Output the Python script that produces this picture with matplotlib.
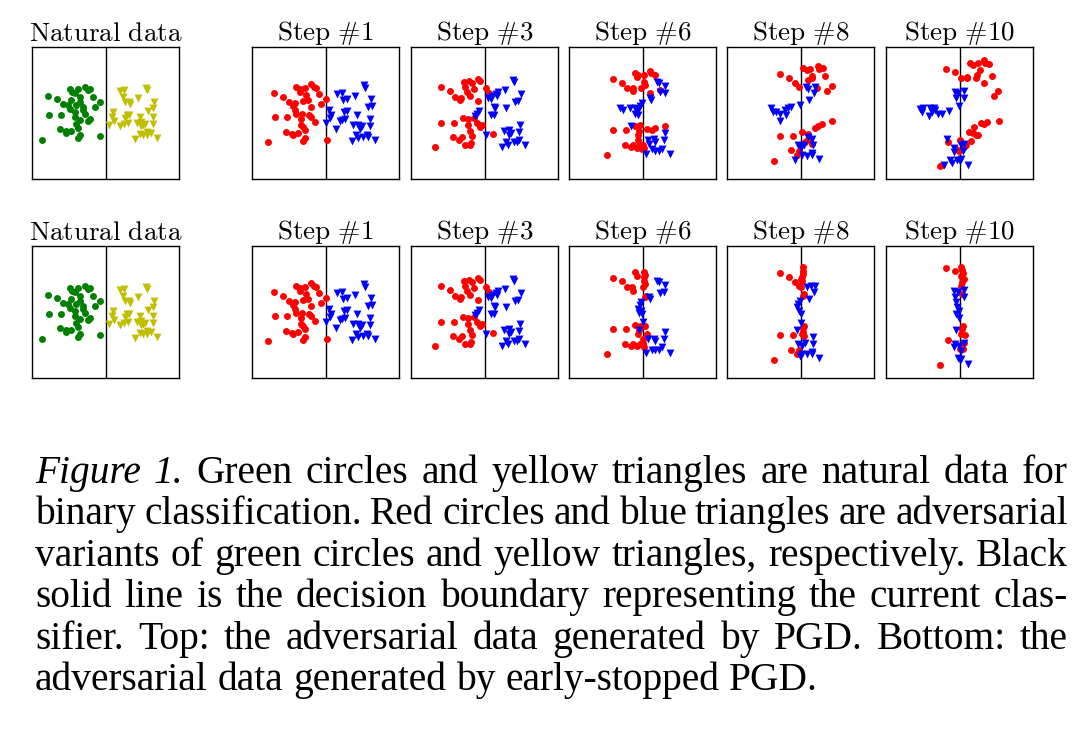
import matplotlib
matplotlib.use('Agg')
import matplotlib.pyplot as plt

plt.rcParams['mathtext.fontset'] = 'cm'

W, H = 1084, 748

# Point positions, in panel grid units
# (x to the right, y downwards), decision boundary at x = 228
boundary_x = 228

nat_circles = [(55,152),(83,162),(100,178),(120,132),(128,140),(145,133),(165,125),(175,135),
               (182,133),(135,145),(150,157),(190,157),(210,170),(197,185),(115,180),(120,192),
               (140,180),(160,195),(165,205),(58,210),(95,208),(135,200),(135,215),(150,225),
               (180,220),(175,228),(138,235),(145,248),(92,252),(110,258),(108,262),(125,258),
               (150,268),(145,278),(36,283),(212,273),(160,185),(125,165),(150,170)]
nat_triangles = [(270,138),(283,135),(348,128),(352,135),(280,155),(325,160),(372,170),(285,172),
                 (300,178),(298,170),(355,198),(370,190),(248,200),(245,215),(252,228),(290,208),
                 (298,210),(285,218),(330,215),(370,215),(237,240),(270,243),(282,235),(294,233),
                 (320,233),(333,230),(340,238),(345,235),(370,237),(332,242),(330,265),(340,270),
                 (352,268),(362,262),(382,277),(315,280),(350,260)]

step1_circles = [(72,143),(100,155),(118,170),(140,125),(150,132),(165,130),(185,118),(192,125),
                 (200,128),(152,142),(170,150),(208,147),(228,162),(213,178),(130,183),(135,175),
                 (160,168),(183,185),(157,205),(75,215),(112,215),(138,205),(155,220),(178,210),
                 (183,215),(155,240),(160,245),(195,230),(110,260),(127,265),(130,270),(145,263),
                 (165,255),(165,278),(160,288),(55,290),(230,283),(175,165),(135,195)]
step1_triangles = [(262,148),(275,145),(342,120),(345,128),(292,163),(280,165),(315,152),(362,162),
                   (355,185),(365,183),(237,195),(243,210),(240,217),(228,232),(283,200),(290,198),
                   (275,225),(285,222),(320,208),(360,222),(258,250),(310,240),(325,238),(335,243),
                   (360,243),(318,270),(325,278),(340,275),(350,268),(355,275),(305,288),(375,285),
                   (270,228),(330,250)]

step3_circles = [(97,127),(125,138),(140,155),(158,160),(155,165),(167,110),(182,108),(208,102),
                 (215,108),(190,115),(195,132),(185,152),(232,130),(208,168),(240,145),(162,218),
                 (178,222),(196,218),(205,232),(215,245),(220,240),(98,233),(137,232),(178,240),
                 (185,258),(190,272),(132,275),(152,285),(160,275),(170,300),(185,300),(188,292),
                 (78,305),(253,265),(175,140),(170,125)]
step3_triangles = [(313,105),(316,112),(287,135),(262,148),(265,152),(335,148),(328,168),(318,172),
                   (238,160),(245,162),(255,185),(258,190),(292,190),(210,197),(205,205),(200,212),
                   (245,208),(255,210),(332,238),(285,258),(300,255),(305,262),(300,268),(330,260),
                   (232,268),(292,290),(297,298),(315,290),(325,290),(330,285),(347,300),(278,305),
                   (250,152),(268,140)]

step6_circles = [(138,102),(165,115),(182,130),(198,128),(198,138),(205,85),(215,90),(210,95),
                 (230,90),(250,78),(253,85),(263,90),(230,110),(235,120),(222,128),(248,145),
                 (278,135),(140,255),(178,255),(205,242),(220,240),(218,258),(215,268),(240,250),
                 (255,253),(265,248),(293,242),(175,298),(193,305),(200,300),(210,308),(220,295),
                 (228,300),(230,308),(120,330),(225,310),(215,285)]
step6_triangles = [(270,110),(275,115),(293,122),(278,140),(295,145),(250,160),(252,165),(225,175),
                   (220,183),(160,190),(170,195),(190,188),(205,190),(210,200),(205,205),(215,195),
                   (192,242),(243,283),(260,280),(265,290),(292,283),(293,262),(238,327),(255,312),
                   (265,318),(275,318),(285,310),(308,325),(245,295),(215,210)]

step8_circles = [(165,88),(193,98),(210,115),(222,125),(235,70),(245,75),(255,72),(278,63),
                 (283,72),(293,70),(262,92),(260,100),(300,93),(250,105),(277,130),(307,137),
                 (320,122),(290,235),(280,242),(270,248),(320,227),(167,272),(205,272),(232,260),
                 (248,265),(250,280),(255,285),(240,290),(200,315),(222,318),(218,328),(147,347),
                 (260,295)]
step8_triangles = [(243,125),(248,133),(270,125),(268,145),(253,165),(225,180),(138,190),(145,200),
                   (155,200),(165,205),(180,195),(190,190),(185,210),(200,185),(165,228),(260,282),
                   (265,300),(238,298),(220,300),(228,308),(230,330),(245,333),(260,322),(262,330),
                   (282,340),(212,343),(250,275)]

step10_circles = [(188,72),(215,82),(232,98),(250,100),(250,95),(258,55),(268,60),(282,55),
                  (300,45),(303,55),(315,58),(288,75),(278,90),(275,100),(323,92),(300,113),
                  (343,138),(330,152),(290,232),(300,235),(310,230),(345,228),(270,245),(268,262),
                  (282,270),(275,268),(255,260),(260,288),(245,298),(240,305),(192,290),(228,285),
                  (175,360),(170,363),(225,318),(218,310)]
step10_triangles = [(215,140),(222,145),(240,138),(218,160),(240,160),(225,182),(108,192),(115,200),
                    (118,190),(140,188),(150,190),(145,200),(155,195),(162,205),(175,205),(137,212),
                    (195,198),(190,280),(212,308),(210,320),(230,298),(240,295),(238,318),(198,345),
                    (205,352),(220,345),(232,340),(228,348),(252,358),(180,360)]

# early-stopped PGD (bottom row)
es6_circles = [(138,102),(165,112),(182,130),(195,130),(198,140),(205,85),(210,95),(230,85),
               (235,92),(232,100),(230,110),(235,120),(228,130),(238,155),(140,255),(178,255),
               (205,242),(220,245),(235,245),(218,258),(215,268),(240,268),(175,298),(193,305),
               (200,300),(210,305),(220,300),(228,295),(232,308),(120,330),(228,285),(235,158)]
es6_triangles = [(270,110),(275,115),(293,122),(278,148),(292,145),(250,165),(222,175),(220,183),
                 (215,195),(218,205),(225,210),(228,232),(222,200),(218,258),(243,283),(260,285),
                 (265,290),(292,283),(293,262),(238,327),(255,318),(265,318),(275,318),(285,308),
                 (308,325),(245,160)]

es8_circles = [(165,88),(193,98),(210,115),(222,125),(233,70),(235,80),(235,90),(232,100),
               (232,110),(228,128),(235,155),(238,245),(235,250),(235,262),(238,275),(232,270),
               (167,272),(205,272),(200,318),(222,318),(218,328),(147,347),(238,150),(228,105)]
es8_triangles = [(245,128),(258,125),(270,125),(268,145),(253,165),(225,170),(220,180),(218,190),
                 (222,200),(228,210),(228,235),(218,258),(265,278),(265,300),(240,295),(220,300),
                 (230,328),(225,335),(245,330),(260,322),(262,330),(282,340),(230,305)]

es10_circles = [(188,72),(215,82),(232,70),(235,78),(238,88),(232,95),(240,105),(235,115),
                (232,125),(235,150),(238,245),(235,255),(242,272),(232,268),(192,288),(240,295),
                (228,315),(170,362),(238,315)]
es10_triangles = [(212,142),(222,145),(240,138),(215,160),(240,158),(218,175),(220,190),(225,200),
                  (218,210),(225,220),(218,258),(215,298),(225,305),(240,295),(232,320),(222,340),
                  (228,348),(232,345),(252,358),(212,308)]

titles = ['Natural data', 'Step #1', 'Step #3', 'Step #6', 'Step #8', 'Step #10']

top_row = [(nat_circles, nat_triangles), (step1_circles, step1_triangles),
           (step3_circles, step3_triangles), (step6_circles, step6_triangles),
           (step8_circles, step8_triangles), (step10_circles, step10_triangles)]
bottom_row = [(nat_circles, nat_triangles), (step1_circles, step1_triangles),
              (step3_circles, step3_triangles), (es6_circles, es6_triangles),
              (es8_circles, es8_triangles), (es10_circles, es10_triangles)]

caption_lines = [
    'Figure 1. Green circles and yellow triangles are natural data for',
    'binary classification. Red circles and blue triangles are adversarial',
    'variants of green circles and yellow triangles, respectively. Black',
    'solid line is the decision boundary representing the current clas-',
    'sifier. Top: the adversarial data generated by PGD. Bottom: the',
    'adversarial data generated by early-stopped PGD.',
]

fig = plt.figure(figsize=(W / 100, H / 100), dpi=100)

col_left = [32, 252, 411, 569, 727, 886]
row_top = [47, 246]
pw, ph = 147, 132

for r, row in enumerate([top_row, bottom_row]):
    for c, (circ, tri) in enumerate(row):
        ax = fig.add_axes([col_left[c] / W, 1 - (row_top[r] + ph) / H, pw / W, ph / H])
        ax.axvline(boundary_x, color='black', lw=1.0, zorder=1)
        if c == 0:
            cc, tc = 'green', 'y'
        else:
            cc, tc = 'r', 'b'
        ax.scatter([p[0] for p in circ], [p[1] for p in circ], s=25, c=cc,
                   marker='o', linewidths=0, zorder=2)
        ax.scatter([p[0] for p in tri], [p[1] for p in tri], s=32, c=tc,
                   marker='v', linewidths=0, zorder=3)
        ax.set_xlim(7, 447)
        ax.set_ylim(401, 6)
        ax.set_xticks([])
        ax.set_yticks([])
        for sp in ax.spines.values():
            sp.set_linewidth(1.0)
        label = titles[c].replace(' ', r'\ ').replace('#', r'\#')
        ax.set_title(r'$\mathrm{' + label + '}$', fontsize=19.5, pad=4.3)

# caption, justified line by line
renderer = fig.canvas.get_renderer()
x0, x1 = 35, 1068
fs = 28.4
baselines = [483, 524.4, 565.8, 607.2, 648.6, 690]
for i, line in enumerate(caption_lines):
    words = line.split()
    y = 1 - baselines[i] / H
    texts = []
    for j, w in enumerate(words):
        style = 'italic' if (i == 0 and j < 2) else 'normal'
        texts.append(fig.text(0, y, w, fontsize=fs, family='Liberation Serif',
                              style=style, va='baseline', ha='left'))
    widths = [t.get_window_extent(renderer).width for t in texts]
    if i < len(caption_lines) - 1:
        gap = (x1 - x0 - sum(widths)) / (len(words) - 1)
    else:
        gap = 0.25 * fs * 100 / 72
    x = x0
    for t, w in zip(texts, widths):
        t.set_x(x / W)
        x += w + gap

fig.savefig('out.png', dpi=100)
